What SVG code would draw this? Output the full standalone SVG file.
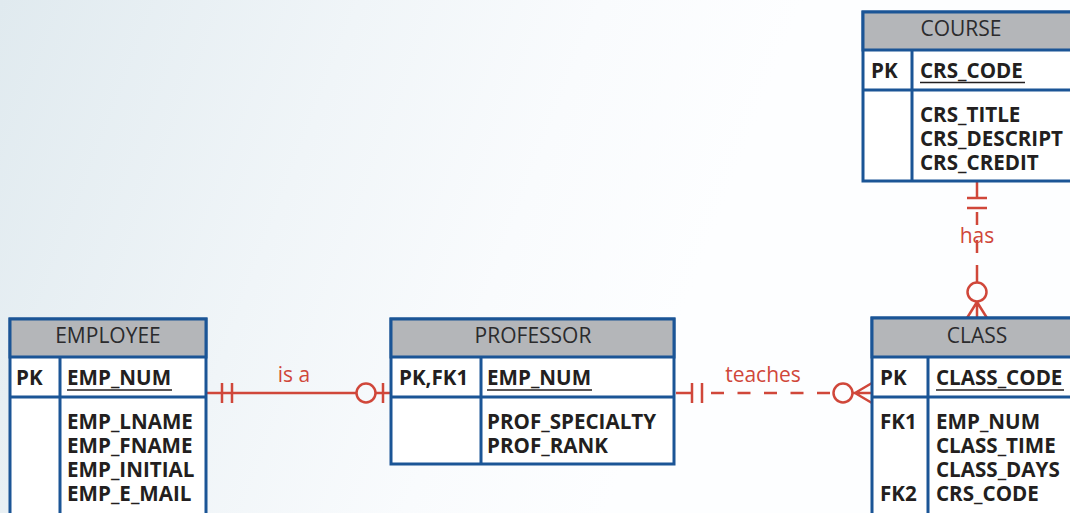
<svg xmlns="http://www.w3.org/2000/svg" width="1070" height="513" viewBox="0 0 1070 513">
  <defs>
    <linearGradient id="bg" gradientUnits="userSpaceOnUse" x1="0" y1="0" x2="700" y2="270">
      <stop offset="0" stop-color="#e0eaef"/>
      <stop offset="0.45" stop-color="#f0f5f8"/>
      <stop offset="0.75" stop-color="#f9fbfd"/>
      <stop offset="1" stop-color="#fdfeff"/>
    </linearGradient>
    <style>
      .box { fill: #ffffff; stroke: #1b5596; stroke-width: 3; }
      .head { fill: #b4b6b9; stroke: #1b5596; stroke-width: 3; }
      .div { stroke: #1b5596; stroke-width: 3; fill: none; }
      .title { font-family: "Open Sans", "Liberation Sans", sans-serif; font-size: 21px; fill: #2b2b2d; text-anchor: middle; }
      .fld { font-family: "Open Sans", "Liberation Sans", sans-serif; font-size: 20.6px; font-weight: bold; fill: #231f20; }
      .ul { stroke: #231f20; stroke-width: 1.5; }
      .rel { stroke: #d0473a; stroke-width: 2.5; fill: none; }
      .dash { stroke-dasharray: 13 13.5; }
      .lbl { font-family: "Open Sans", "Liberation Sans", sans-serif; font-size: 21px; fill: #d0473a; text-anchor: middle; }
    </style>
  </defs>

  <rect x="0" y="0" width="1070" height="513" fill="url(#bg)"/>

  <!-- relationship lines -->
  <g id="connectors">
    <!-- EMPLOYEE is a PROFESSOR -->
    <path class="rel" d="M206 393 H356 M376 393 H391 M222 383 V403 M232 383 V403 M383 383 V403"/>
    <circle class="rel" cx="366" cy="393" r="9.5"/>
    <text class="lbl" x="294" y="382">is a</text>

    <!-- PROFESSOR teaches CLASS -->
    <path class="rel" d="M676 393 H692 M692 383 V403 M702 383 V403"/>
    <path class="rel dash" d="M711 393 H833"/>
    <circle class="rel" cx="843" cy="393" r="9.5"/>
    <path class="rel" d="M853 393 H872 M855 393 L872 383 M855 393 L872 403"/>
    <text class="lbl" x="763" y="382">teaches</text>

    <!-- COURSE has CLASS -->
    <path class="rel" d="M977 180 V198 M967 198 H987 M967 208 H987"/>
    <path class="rel" d="M977 212 V225 M977 240 V253 M977 265 V282"/>
    <circle class="rel" cx="977" cy="292" r="9.5"/>
    <path class="rel" d="M977 302 V318 M977 302 L967 318 M977 302 L987 318"/>
    <text class="lbl" x="977" y="243">has</text>
  </g>

  <!-- COURSE entity -->
  <g id="course">
    <rect class="box" x="863" y="12" width="215" height="169"/>
    <rect class="head" x="863" y="12" width="215" height="38"/>
    <path class="div" d="M863 90 H1078 M912 50 V181"/>
    <text class="title" x="961" y="36">COURSE</text>
    <text class="fld" x="871" y="78">PK</text>
    <text class="fld" x="920" y="78">CRS_CODE</text>
    <line class="ul" x1="920" y1="82.5" x2="1025" y2="82.5"/>
    <text class="fld" x="920" y="122">CRS_TITLE</text>
    <text class="fld" x="920" y="146">CRS_DESCRIPT</text>
    <text class="fld" x="920" y="170">CRS_CREDIT</text>
  </g>

  <!-- EMPLOYEE entity -->
  <g id="employee">
    <rect class="box" x="10" y="319" width="196" height="210"/>
    <rect class="head" x="10" y="319" width="196" height="38"/>
    <path class="div" d="M10 397 H206 M60 357 V520"/>
    <text class="title" x="108" y="343">EMPLOYEE</text>
    <text class="fld" x="16" y="385">PK</text>
    <text class="fld" x="67" y="385">EMP_NUM</text>
    <line class="ul" x1="67" y1="390" x2="172" y2="390"/>
    <text class="fld" x="67" y="429">EMP_LNAME</text>
    <text class="fld" x="67" y="453">EMP_FNAME</text>
    <text class="fld" x="67" y="477">EMP_INITIAL</text>
    <text class="fld" x="67" y="501">EMP_E_MAIL</text>
  </g>

  <!-- PROFESSOR entity -->
  <g id="professor">
    <rect class="box" x="391" y="319" width="283" height="145"/>
    <rect class="head" x="391" y="319" width="283" height="38"/>
    <path class="div" d="M391 397 H674 M481 357 V464"/>
    <text class="title" x="533" y="343">PROFESSOR</text>
    <text class="fld" x="399" y="385">PK,FK1</text>
    <text class="fld" x="487" y="385">EMP_NUM</text>
    <line class="ul" x1="487" y1="390" x2="592" y2="390"/>
    <text class="fld" x="487" y="429">PROF_SPECIALTY</text>
    <text class="fld" x="487" y="453">PROF_RANK</text>
  </g>

  <!-- CLASS entity -->
  <g id="class">
    <rect class="box" x="872" y="318" width="210" height="210"/>
    <rect class="head" x="872" y="318" width="210" height="39"/>
    <path class="div" d="M872 397 H1082 M928 357 V520"/>
    <text class="title" x="977" y="343">CLASS</text>
    <text class="fld" x="880" y="385">PK</text>
    <text class="fld" x="936" y="385">CLASS_CODE</text>
    <line class="ul" x1="936" y1="390" x2="1064" y2="390"/>
    <text class="fld" x="880" y="429">FK1</text>
    <text class="fld" x="936" y="429">EMP_NUM</text>
    <text class="fld" x="936" y="453">CLASS_TIME</text>
    <text class="fld" x="936" y="477">CLASS_DAYS</text>
    <text class="fld" x="880" y="501">FK2</text>
    <text class="fld" x="936" y="501">CRS_CODE</text>
  </g>
</svg>
